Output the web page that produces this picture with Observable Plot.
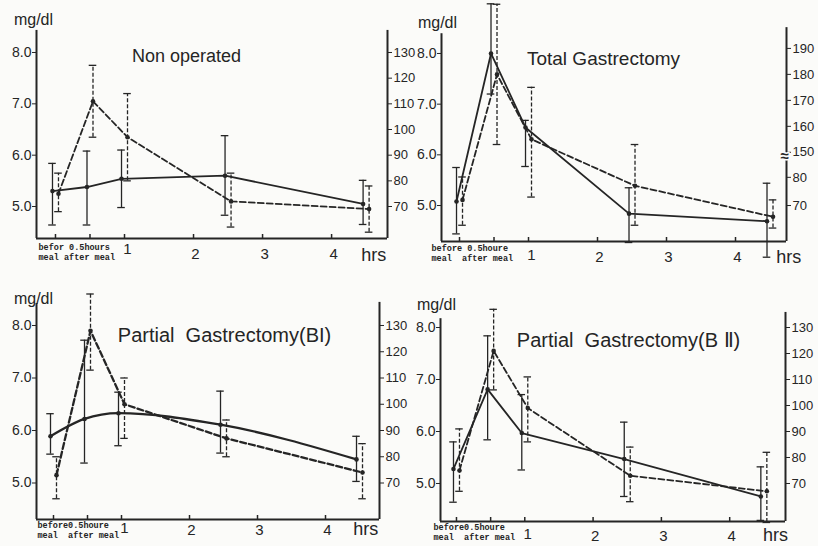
<!DOCTYPE html>
<html><head><meta charset="utf-8">
<script src="https://cdn.jsdelivr.net/npm/d3@7"></script>
<script src="https://cdn.jsdelivr.net/npm/@observablehq/plot@0.6"></script>
<style>
html,body{margin:0;padding:0;background:#fbfbf9;}
#wrap{position:relative;width:818px;height:546px;overflow:hidden;}
.panel{position:absolute;width:409px;height:273px;}
.panel svg{overflow:visible;}
svg text{white-space:pre;}
</style></head><body><div id="wrap"></div>
<script>
// ---- shared categories / ticks ----
const times = [0, 0.5, 1, 2.5, 4.5];          // before meal, 0.5 h, 1 h, 2.5 h, 4.5 h
const leftTicks = [5, 6, 7, 8];
const hourTicks = [1, 2, 3, 4];
const tickMarks = [0, 0.5, 1, 2, 3, 4];
const rightTicksStd = [70, 80, 90, 100, 110, 120, 130];
const rightTicksTotal = [70, 80, 150, 160, 170, 180, 190];
const titles = ["Non operated", "Total Gastrectomy", "Partial  Gastrectomy(BI)", "Partial  Gastrectomy(B \u2161)"];
const timeNotes = ["befor 0.5hours\nmeal after meal", "before 0.5houre\nmeal  after meal", "before0.5houre\nmeal  after meal", "before0.5houre\nmeal  after meal"];

// ---- Non operated ----
const nonSolid   = [5.30, 5.38, 5.54, 5.60, 5.05];
const nonSolidLo = [4.64, 4.64, 4.98, 4.83, 4.65];
const nonSolidHi = [5.84, 6.08, 6.10, 6.38, 5.51];
const nonDash    = [75, 111, 97, 72, 69];
const nonDashLo  = [68, 97, 80, 62, 60];
const nonDashHi  = [83, 125, 114, 83, 78];

// ---- Total Gastrectomy ----
const totSolid   = [5.08, 8.00, 6.54, 4.84, 4.69];
const totSolidLo = [4.44, 7.20, 5.77, 4.27, 3.98];
const totSolidHi = [5.75, 8.98, 6.68, 5.35, 5.44];
const totDash    = [72, 180, 155, 77, 66];
const totDashLo  = [63, 153, 73, 63, 62];
const totDashHi  = [81, 207, 175, 153, 72];

// ---- Partial Gastrectomy (BI) ----
const b1Solid   = [5.89, 6.22, 6.33, 6.11, 5.45];
const b1SolidLo = [5.55, 5.38, 5.71, 5.57, 5.03];
const b1SolidHi = [6.32, 7.72, 6.73, 6.75, 5.89];
const b1Dash    = [73, 128, 100, 87, 74];
const b1DashLo  = [64, 113, 87, 80, 64];
const b1DashHi  = [80, 142, 110, 94, 85];

// ---- Partial Gastrectomy (BII) ----
const b2Solid   = [5.28, 6.81, 5.97, 5.47, 4.75];
const b2SolidLo = [4.64, 5.84, 5.26, 4.75, 4.29];
const b2SolidHi = [5.80, 7.84, 6.71, 6.18, 5.32];
const b2Dash    = [75, 121, 99, 73, 67];
const b2DashLo  = [67, 106, 86, 63, 55];
const b2DashHi  = [91, 137, 111, 84, 82];

// right-axis (mg/dl) -> left-axis units
const stdRight = d3.scaleLinear().domain([70, 130]).range([5, 8]);
const totalRight = d3.scaleLinear().domain([70, 80, 150, 190]).range([5, 5.556, 6.05, 8.10]);

// ---- layout (positions / sizes only) ----
const layouts = [
  {left: 0, top: 0, ml: 36, mr: 22, mt: 10, mb: 35, xd: [-0.275, 4.81], yd: [4.377, 8.818], leftTop: 8.43, rightTop: 8.43,
   mg: [-3, 9], title: [150, 46], titleSize: 18, note: [2, 5], num: 16, one: 11, hrs: 4.61, hrsDy: 17, curve: "linear", lw: 1.8},
  {left: 409, top: 0, ml: 32, mr: 32, mt: 2, mb: 32, xd: [-0.261, 4.739], yd: [4.29, 9.006], leftTop: 8.39, rightTop: 8.51,
   mg: [-4, 20], title: [162, 56], titleSize: 19, note: [-10, 3], num: 16, one: 14, hrs: 4.77, hrsDy: 16, curve: "linear", lw: 1.8, brk: 5.97},
  {left: 0, top: 273, ml: 36, mr: 30, mt: 8, mb: 27, xd: [-0.25, 4.794], yd: [4.305, 8.838], leftTop: 8.419, rightTop: 8.44,
   mg: [-3, 17], title: [188, 54], titleSize: 20, note: [1, 2], num: 11, one: 9, hrs: 4.59, hrsDy: 10, curve: "monotone-x", lw: 2.3},
  {left: 409, top: 273, ml: 31, mr: 33, mt: 8, mb: 25, xd: [-0.234, 4.817], yd: [4.269, 8.885], leftTop: 8.17, rightTop: 8.29,
   mg: [-4, 23], title: [188, 59], titleSize: 20, note: [-7, 2], num: 15, one: 13, hrs: 4.67, hrsDy: 14, curve: "linear", lw: 1.8}
];

const panels = [
  {solid: nonSolid, solidLo: nonSolidLo, solidHi: nonSolidHi, dash: nonDash, dashLo: nonDashLo, dashHi: nonDashHi, toLeft: stdRight, rightTicks: rightTicksStd},
  {solid: totSolid, solidLo: totSolidLo, solidHi: totSolidHi, dash: totDash, dashLo: totDashLo, dashHi: totDashHi, toLeft: totalRight, rightTicks: rightTicksTotal},
  {solid: b1Solid, solidLo: b1SolidLo, solidHi: b1SolidHi, dash: b1Dash, dashLo: b1DashLo, dashHi: b1DashHi, toLeft: stdRight, rightTicks: rightTicksStd},
  {solid: b2Solid, solidLo: b2SolidLo, solidHi: b2SolidHi, dash: b2Dash, dashLo: b2DashLo, dashHi: b2DashHi, toLeft: stdRight, rightTicks: rightTicksStd}
];

const ink = "#252525";
const cap = 0.055;
const W = 409, H = 273;

panels.forEach((p, k) => {
  const L = layouts[k];
  const conv = p.toLeft;
  const solid = times.map((t, i) => ({t, m: p.solid[i], lo: p.solidLo[i], hi: p.solidHi[i]}));
  const dash = times.map((t, i) => ({t, m: conv(p.dash[i]), lo: conv(p.dashLo[i]), hi: conv(p.dashHi[i])}));
  const frameH = H - L.mt - L.mb;
  const marks = [
    // axis frame
    Plot.ruleX([L.xd[0]], {x: d => d, y1: () => L.yd[0], y2: () => L.leftTop, stroke: ink, strokeWidth: 2}),
    Plot.ruleX([L.xd[1]], {x: d => d, y1: () => L.yd[0], y2: () => L.rightTop, stroke: ink, strokeWidth: 2}),
    Plot.ruleY([L.yd[0]], {y: d => d, x1: () => L.xd[0], x2: () => L.xd[1], stroke: ink, strokeWidth: 2}),
    Plot.tickX(tickMarks, {x: d => d, insetTop: frameH - 4, stroke: ink, strokeWidth: 1.5}),
    Plot.axisY(leftTicks, {anchor: "left", tickSize: 4, tickPadding: 1, tickFormat: d => d.toFixed(1), fontSize: 14, label: null, color: ink}),
    Plot.axisY(p.rightTicks, {anchor: "right", y: d => conv(d), tickSize: 4, tickPadding: 2, tickFormat: d => String(d), fontSize: 13, label: null, color: ink}),
    // solid series
    Plot.ruleX(solid, {x: d => d.t, y1: d => d.lo, y2: d => d.hi, dx: -3, stroke: ink, strokeWidth: 1.3}),
    Plot.ruleY(solid, {y: d => d.lo, x1: d => d.t - cap, x2: d => d.t + cap, dx: -3, stroke: ink, strokeWidth: 1.3}),
    Plot.ruleY(solid, {y: d => d.hi, x1: d => d.t - cap, x2: d => d.t + cap, dx: -3, stroke: ink, strokeWidth: 1.3}),
    Plot.line(solid, {x: d => d.t, y: d => d.m, dx: -3, stroke: ink, strokeWidth: L.lw, curve: L.curve}),
    Plot.dot(solid, {x: d => d.t, y: d => d.m, dx: -3, r: 2.3, fill: ink}),
    // dashed series
    Plot.ruleX(dash, {x: d => d.t, y1: d => d.lo, y2: d => d.hi, dx: 3, stroke: ink, strokeWidth: 1.3, strokeDasharray: "4,2"}),
    Plot.ruleY(dash, {y: d => d.lo, x1: d => d.t - cap, x2: d => d.t + cap, dx: 3, stroke: ink, strokeWidth: 1.3}),
    Plot.ruleY(dash, {y: d => d.hi, x1: d => d.t - cap, x2: d => d.t + cap, dx: 3, stroke: ink, strokeWidth: 1.3}),
    Plot.line(dash, {x: d => d.t, y: d => d.m, dx: 3, stroke: ink, strokeWidth: L.lw, strokeDasharray: "6,3"}),
    Plot.dot(dash, {x: d => d.t, y: d => d.m, dx: 3, r: 2.3, fill: ink}),
    // texts
    Plot.text(["mg/dl"], {text: d => d, frameAnchor: "top-left", textAnchor: "middle", lineAnchor: "middle", dx: L.mg[0], dy: L.mg[1], fontSize: 16, fill: ink}),
    Plot.text([titles[k]], {text: d => d, frameAnchor: "top-left", textAnchor: "middle", lineAnchor: "middle", dx: L.title[0], dy: L.title[1], fontSize: L.titleSize, fill: ink}),
    Plot.text([timeNotes[k]], {text: d => d, frameAnchor: "bottom-left", dx: L.note[0], dy: L.note[1], textAnchor: "start", lineAnchor: "top", lineHeight: 1.15, fontFamily: "Liberation Mono", fontWeight: "bold", fontSize: 8.5, fill: ink}),
    Plot.text(hourTicks.filter(d => d !== 1), {x: d => d, text: d => String(d), frameAnchor: "bottom", lineAnchor: "middle", dy: L.num, dx: 2, fontSize: 15, fill: ink}),
    Plot.text(hourTicks.filter(d => d === 1), {x: d => d, text: d => String(d), frameAnchor: "bottom", lineAnchor: "middle", dy: L.one, dx: 3, fontSize: 15, fill: ink}),
    Plot.text([L.hrs], {x: d => d, text: () => "hrs", frameAnchor: "bottom", lineAnchor: "middle", dy: L.hrsDy, fontSize: 18, fill: ink})
  ];
  if (L.brk !== undefined) {
    marks.push(Plot.text([L.brk], {x: () => L.xd[1], y: d => d, text: () => "\u2248", dx: -2, fontSize: 15, fontWeight: "bold", fill: ink, stroke: "#fbfbf9", strokeWidth: 3, paintOrder: "stroke"}));
  }
  const svg = Plot.plot({
    width: W, height: H,
    marginLeft: L.ml, marginRight: L.mr, marginTop: L.mt, marginBottom: L.mb,
    x: {domain: L.xd, axis: null},
    y: {domain: L.yd, axis: null},
    style: {background: "transparent", overflow: "visible", fontFamily: "Liberation Sans", color: ink},
    marks
  });
  const div = document.createElement("div");
  div.className = "panel";
  div.style.left = L.left + "px";
  div.style.top = L.top + "px";
  div.appendChild(svg);
  document.getElementById("wrap").appendChild(div);
});
</script>
</body></html>
